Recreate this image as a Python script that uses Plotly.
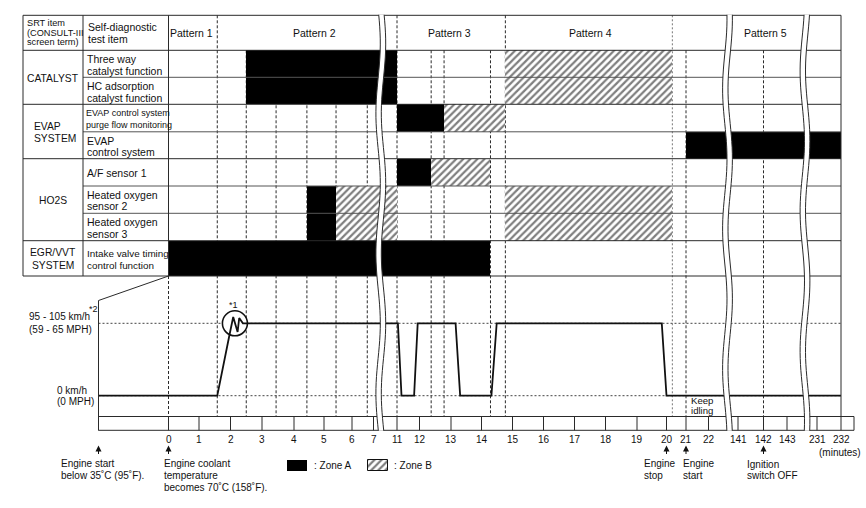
import numpy as np
import plotly.graph_objects as go

# ------------------------------------------------------------------ data
TICK_MINUTES = [0, 1, 2, 3, 4, 5, 6, 7, 11, 12, 13, 14, 15, 16, 17, 18, 19, 20,
                21, 22, 141, 142, 143, 231, 232]
TICK_LABELS = [str(m) for m in TICK_MINUTES]
ENGINE_START_MIN = -2.4      # engine start (below 35 C), before minute 0
RULER_END_MIN = 232.55

SRT_ITEMS = ["CATALYST", "EVAP\nSYSTEM", "HO2S", "EGR/VVT\nSYSTEM"]
SRT_FIRST_ROW = [0, 2, 4, 7]
SRT_LAST_ROW = [1, 3, 6, 7]
TEST_ITEMS = ["Three way\ncatalyst function", "HC adsorption\ncatalyst function",
              "EVAP control system\npurge flow monitoring", "EVAP\ncontrol system",
              "A/F sensor 1", "Heated oxygen\nsensor 2", "Heated oxygen\nsensor 3",
              "Intake valve timing\ncontrol function"]

PATTERN_NAMES = ["Pattern 1", "Pattern 2", "Pattern 3", "Pattern 4", "Pattern 5"]
PATTERN_LABEL_MIN = [0.77, 4.67, 12.95, 17.53, 142.09]
PATTERN_BOUNDARY_MIN = [1.58, 11.0, 14.77, 20.3]
EVENT_MIN = [0.0, 2.5, 3.44, 4.43, 5.43, 6.71, 12.37, 12.78, 14.29, 21.0, 142.0]

# Zone A (black) and Zone B (hatched): table row, start minute, end minute
ZONE_A_ROW = [0, 1, 2, 3, 4, 5, 6, 7]
ZONE_A_START = [2.5, 2.5, 11.0, 21.0, 11.0, 4.43, 4.43, 0.0]
ZONE_A_END = [11.0, 11.0, 12.78, 232.0, 12.37, 5.43, 5.43, 14.29]
ZONE_B_ROW = [0, 1, 2, 4, 5, 6, 5, 6]
ZONE_B_START = [14.77, 14.77, 12.78, 12.37, 5.43, 5.43, 14.77, 14.77]
ZONE_B_END = [20.3, 20.3, 14.77, 14.29, 11.0, 11.0, 20.3, 20.3]

# vehicle speed: 0 = 0 km/h, 1 = 95-105 km/h
SPEED_MIN = [-2.4, 1.58, 2.52, 11.04, 11.2, 11.76, 11.92, 13.15, 13.3, 14.32,
             14.49, 19.84, 20.0, 232.0]
SPEED_LEVEL = [0, 0, 1, 1, 0, 0, 1, 1, 0, 0, 1, 1, 0, 0]
ACCEL_MIN = 2.14             # "*1" acceleration symbol

# ------------------------------------------------------------------ layout geometry
W, H = 866, 508
FONT = "Liberation Sans, Arial, Helvetica, sans-serif"
INK = "#111111"
LINE = "#2a2a2a"

ANCHOR_MIN = [ENGINE_START_MIN] + TICK_MINUTES + [RULER_END_MIN]
ANCHOR_POS = [98.5, 168.5, 199, 230.5, 262, 294, 324, 352, 373.5, 397, 419.5, 451,
              481.5, 512.5, 543.5, 574.5, 605.5, 637, 666.5, 686, 708.5, 738, 763.5,
              787, 817, 841, 854]


def X(t):
    return float(np.interp(t, ANCHOR_MIN, ANCHOR_POS))


ROW_EDGES = [50.3, 77.3, 104.3, 131.8, 158.7, 186.0, 213.3, 240.7, 276.0]
TABLE_TOP, TABLE_LEFT, COL1_RIGHT = 15.3, 23.0, 83.0
RIGHT = X(232)
SPEED_Y0, SPEED_Y1 = 395.7, 323.3
RULER_TOP, RULER_BOT = 416.5, 430.3
BREAK_X = [380.8, 727.5, 805.0]
BREAK_PHASE = [0.3, 1.4, 2.2]


def SY(v):
    return SPEED_Y0 + (SPEED_Y1 - SPEED_Y0) * v


shapes = []
ann = []


def line(x0, y0, x1, y1, color=LINE, width=1, dash=None, layer="above"):
    d = dict(color=color, width=width)
    if dash:
        d["dash"] = dash
    shapes.append(dict(type="line", xref="x", yref="y", x0=x0, y0=y0, x1=x1, y1=y1,
                       line=d, layer=layer))


def text(x, y, s, size=10.5, anchor="left"):
    ann.append(dict(x=x, y=y, xref="x", yref="y", text=s, showarrow=False,
                    xanchor=anchor, yanchor="middle",
                    font=dict(size=size, color=INK, family=FONT)))


def lines_text(x, yc, s, spacing, size=10.5, anchor="left"):
    parts = s.split("\n")
    n = len(parts)
    for i, p in enumerate(parts):
        text(x, yc + (i - (n - 1) / 2) * spacing, p, size, anchor)


fig = go.Figure()

# ------------------------------------------------------------------ zones
def bar_geom(rows, starts, ends):
    yc = [(ROW_EDGES[r] + ROW_EDGES[r + 1]) / 2 for r in rows]
    wd = [ROW_EDGES[r + 1] - ROW_EDGES[r] for r in rows]
    base = [X(s) for s in starts]
    ln = [X(e) - X(s) for s, e in zip(starts, ends)]
    return yc, wd, base, ln


HATCH = dict(shape="/", fgcolor="#000000", bgcolor="white", size=5, solidity=0.45)

yc, wd, base, ln = bar_geom(ZONE_A_ROW, ZONE_A_START, ZONE_A_END)
fig.add_trace(go.Bar(orientation="h", y=yc, x=ln, base=base, width=wd,
                     marker=dict(color="#000000", line=dict(width=0)),
                     hoverinfo="skip", showlegend=False))
yc, wd, base, ln = bar_geom(ZONE_B_ROW, ZONE_B_START, ZONE_B_END)
fig.add_trace(go.Bar(orientation="h", y=yc, x=ln, base=base, width=wd,
                     marker=dict(color="white", line=dict(width=0), pattern=HATCH),
                     hoverinfo="skip", showlegend=False))

# ------------------------------------------------------------------ speed trace
fig.add_trace(go.Scatter(x=[X(ACCEL_MIN)], y=[SY(1)], mode="markers",
                         marker=dict(symbol="circle", size=25, color="white",
                                     line=dict(color=INK, width=1.6)),
                         hoverinfo="skip", showlegend=False))
ZIGZAG = [(-5.5, 12), (-1.7, -6.3), (2.7, 8.7), (4.3, -5.3), (8, 0)]
px, py = [], []
inserted = False
for t, v in zip(SPEED_MIN, SPEED_LEVEL):
    if t > ACCEL_MIN and not inserted:
        cx, cy = X(ACCEL_MIN), SY(1)
        for dx, dy in ZIGZAG:
            px.append(cx + dx)
            py.append(cy + dy)
        inserted = True
    px.append(X(t))
    py.append(SY(v))
fig.add_trace(go.Scatter(x=px, y=py, mode="lines", line=dict(color=INK, width=1.8),
                         hoverinfo="skip", showlegend=False))

# legend swatches
fig.add_trace(go.Bar(orientation="h", y=[465.5], x=[20], base=[287.3], width=[10.8],
                     marker=dict(color="#000000", line=dict(width=0)),
                     hoverinfo="skip", showlegend=False))
fig.add_trace(go.Bar(orientation="h", y=[465.5], x=[20], base=[368.3], width=[10.8],
                     marker=dict(color="white", line=dict(width=1, color=INK), pattern=HATCH),
                     hoverinfo="skip", showlegend=False))

# ------------------------------------------------------------------ dashed guides
DASH = "3px,2px"
for t in PATTERN_BOUNDARY_MIN:
    grey = abs(t - 20.3) < 1e-6
    line(X(t), TABLE_TOP, X(t), RULER_TOP, color="#777777" if grey else LINE,
         width=1, dash="2px,2px" if grey else DASH, layer="below")
for t in EVENT_MIN:
    y0 = ROW_EDGES[-1] if t == 0 else ROW_EDGES[0]
    line(X(t), y0, X(t), RULER_TOP, width=1, dash=DASH, layer="below")
for v in (0, 1):
    line(X(ENGINE_START_MIN), SY(v), RIGHT, SY(v), color="#444444", width=1,
         dash="2px,2px", layer="below")

# ------------------------------------------------------------------ table frame
line(TABLE_LEFT, TABLE_TOP, RIGHT, TABLE_TOP)
for i, y in enumerate(ROW_EDGES):
    x0 = TABLE_LEFT if i in (0, 2, 4, 7, 8) else COL1_RIGHT
    line(x0, y, RIGHT, y, color=LINE if i in (0, 2, 4, 7, 8) else "#555555")
line(TABLE_LEFT, TABLE_TOP, TABLE_LEFT, ROW_EDGES[-1])
line(COL1_RIGHT, TABLE_TOP, COL1_RIGHT, ROW_EDGES[-1])
line(X(0), TABLE_TOP, X(0), ROW_EDGES[-1])
line(RIGHT, TABLE_TOP, RIGHT, RULER_TOP)

# speed chart frame
line(X(ENGINE_START_MIN), 300.5, X(ENGINE_START_MIN), RULER_BOT)
line(X(ENGINE_START_MIN), 300.5, X(0), ROW_EDGES[-1])

# ruler
line(X(ENGINE_START_MIN), RULER_TOP, X(RULER_END_MIN), RULER_TOP)
line(X(ENGINE_START_MIN), RULER_BOT, X(RULER_END_MIN), RULER_BOT)
for t in ANCHOR_MIN:
    line(X(t), RULER_TOP, X(t), RULER_BOT)

# breaks (white band with wavy double lines)
ys = np.linspace(TABLE_TOP - 0.5, RULER_BOT + 0.5, 70)
for xc, ph in zip(BREAK_X, BREAK_PHASE):
    xs = xc + 2.2 * np.sin(2 * np.pi * (ys - 15) / 140 + ph)
    left = [(x - 2.7, y) for x, y in zip(xs, ys)]
    right = [(x + 2.7, y) for x, y in zip(xs, ys)]
    poly = left + right[::-1]
    path = "M " + " L ".join(f"{x:.2f},{y:.2f}" for x, y in poly) + " Z"
    shapes.append(dict(type="path", xref="x", yref="y", path=path, fillcolor="white",
                       line=dict(width=0), layer="above"))
    for edge in (left, right):
        p = "M " + " L ".join(f"{x:.2f},{y:.2f}" for x, y in edge)
        shapes.append(dict(type="path", xref="x", yref="y", path=p,
                           line=dict(color=LINE, width=1), layer="above"))

# ------------------------------------------------------------------ texts
lines_text(24.5, 32.5, "SRT item\n(CONSULT-III\nscreen term)", 9.8, size=9.2)
lines_text(85.5, 33, "Self-diagnostic\ntest item", 12.3, size=10.5)
for name, t in zip(PATTERN_NAMES, PATTERN_LABEL_MIN):
    text(X(t), 32.5, name, 10.5, "center")

for name, r0, r1 in zip(SRT_ITEMS, SRT_FIRST_ROW, SRT_LAST_ROW):
    yc = (ROW_EDGES[r0] + ROW_EDGES[r1 + 1]) / 2 + 0.8
    if name.startswith("EVAP"):
        lines_text(32, yc, name, 12.0, size=10.3, anchor="left")
    else:
        lines_text(53, yc, name, 13.5, size=10.3, anchor="center")

for r, name in enumerate(TEST_ITEMS):
    yc = (ROW_EDGES[r] + ROW_EDGES[r + 1]) / 2 + 1.0
    if r == 2:
        lines_text(83.5, yc, name, 12.0, size=9.0)
    elif r == 7:
        lines_text(85.0, yc, name, 12.6, size=9.9)
    else:
        lines_text(85.0, yc, name, 11.4, size=10.5)

# speed labels
text(26.5, 316.7, "95 - 105 km/h", 10)
text(93.5, 309.0, "*2", 9, "center")
text(26.5, 329.5, "(59 - 65 MPH)", 10)
text(54.5, 390.0, "0 km/h", 10)
text(54.5, 401.7, "(0 MPH)", 10)
text(X(ACCEL_MIN) - 1.5, 304.5, "*1", 9, "center")
text(X(21) + 3, 400.0, "Keep", 9.6)
text(X(21) + 3, 410.0, "idling", 9.6)

# tick labels
for t, lab in zip(TICK_MINUTES, TICK_LABELS):
    text(X(t), 439.3, lab, 10, "center")
text(840, 452.7, "(minutes)", 10, "center")

# event arrows
for t in [ENGINE_START_MIN, 0, 20, 21, 142]:
    ann.append(dict(x=X(t), y=445.5, xref="x", yref="y", text="", showarrow=True,
                    ax=0, ay=10, arrowhead=2, arrowsize=1.2, arrowwidth=1,
                    arrowcolor=INK, standoff=0))

lines_text(58.5, 469.3, "Engine start\nbelow 35˚C (95˚F).", 11.8, size=10)
lines_text(161.5, 475.5, "Engine coolant\ntemperature\nbecomes 70˚C (158˚F).", 12.2, size=10)
text(311.5, 465.5, ": Zone A", 10)
text(391.5, 465.5, ": Zone B", 10)
lines_text(641.5, 469.4, "Engine\nstop", 12.2, size=10)
lines_text(681.0, 469.4, "Engine\nstart", 12.2, size=10)
lines_text(744.5, 470.0, "Ignition\nswitch OFF", 11.5, size=10)

fig.update_layout(
    width=W, height=H, margin=dict(l=0, r=0, t=0, b=0),
    paper_bgcolor="white", plot_bgcolor="white",
    barmode="overlay", bargap=0, showlegend=False,
    xaxis=dict(range=[0, W], visible=False, fixedrange=True),
    yaxis=dict(range=[H, 0], visible=False, fixedrange=True),
    shapes=shapes, annotations=ann,
    font=dict(family=FONT, color=INK),
)
fig.write_html("out.html", config={"displayModeBar": False},
               post_script="document.body.style.margin='0';document.body.style.overflow='hidden';")
